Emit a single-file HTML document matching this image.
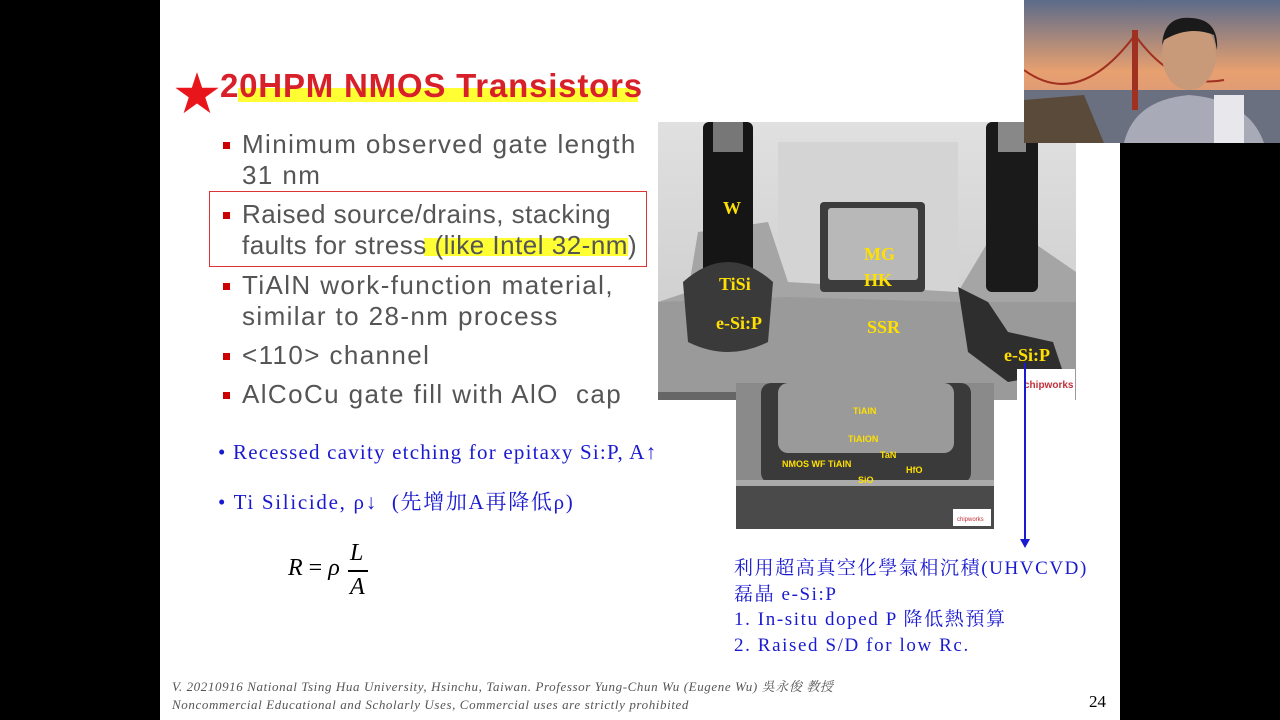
<!DOCTYPE html>
<html><head><meta charset="utf-8">
<style>
html,body{margin:0;padding:0;background:#000;}
body{width:1280px;height:720px;position:relative;overflow:hidden;font-family:"Liberation Sans","Noto Sans CJK TC",sans-serif;}
#slide{position:absolute;left:160px;top:0;width:960px;height:720px;background:#fff;}
.a{position:absolute;white-space:nowrap;}
.b{font-size:26px;color:#555;line-height:31px;letter-spacing:1.4px;}
.sq{position:absolute;width:7px;height:7px;background:#c00;}
.blue{font-family:"Liberation Serif","Noto Serif CJK SC",serif;color:#1a1ad0;font-size:21px;}
.y{font-family:"Liberation Serif",serif;font-weight:bold;color:#ffe000;font-size:18px;position:absolute;}
.ys{font-family:"Liberation Sans",sans-serif;font-weight:bold;color:#ffe000;font-size:9px;position:absolute;}
</style></head><body>
<div id="slide"></div>
<!-- title -->
<div class="a" style="left:174px;top:58px;font-size:46px;color:#e8161b;">★</div>
<div class="a" style="left:238px;top:88px;width:400px;height:14px;background:#ffff33;"></div>
<div class="a" style="left:220px;top:67px;font-size:33px;font-weight:bold;color:#d8202a;letter-spacing:0.8px;">20HPM NMOS Transistors</div>
<!-- bullets -->
<div class="sq" style="left:223px;top:142px;"></div>
<div class="a b" style="left:242px;top:129px;">Minimum observed gate length<br>31 nm</div>
<div class="a" style="left:209px;top:191px;width:436px;height:74px;border:1.5px solid #d33;"></div>
<div class="a" style="left:424px;top:238px;width:204px;height:18px;background:#ffff33;"></div>
<div class="sq" style="left:223px;top:212px;"></div>
<div class="a b" style="left:242px;top:199px;letter-spacing:0.5px;">Raised source/drains, stacking<br>faults for stress (like Intel 32-nm)</div>
<div class="sq" style="left:223px;top:283px;"></div>
<div class="a b" style="left:242px;top:270px;">TiAlN work-function material,<br>similar to 28-nm process</div>
<div class="sq" style="left:223px;top:353px;"></div>
<div class="a b" style="left:242px;top:340px;">&lt;110&gt; channel</div>
<div class="sq" style="left:223px;top:392px;"></div>
<div class="a b" style="left:242px;top:379px;">AlCoCu gate fill with AlO&nbsp; cap</div>
<div class="a blue" style="left:218px;top:440px;letter-spacing:1.2px;">• Recessed cavity etching for epitaxy Si:P, A↑</div>
<div class="a blue" style="left:218px;top:486px;letter-spacing:1.7px;">• Ti Silicide, ρ↓&nbsp; (先增加A再降低ρ)</div>
<!-- formula -->
<div class="a" style="left:288px;top:555px;font-family:'Liberation Serif',serif;font-style:italic;font-size:24px;">R <span style="font-style:normal">=</span> ρ</div>
<div class="a" style="left:350px;top:540px;font-family:'Liberation Serif',serif;font-style:italic;font-size:24px;">L</div>
<div class="a" style="left:348px;top:570px;width:20px;height:1.5px;background:#000;"></div>
<div class="a" style="left:350px;top:574px;font-family:'Liberation Serif',serif;font-style:italic;font-size:24px;">A</div>
<!-- footer -->
<div class="a" style="left:172px;top:678px;font-family:'Liberation Serif','Noto Serif CJK SC',serif;font-style:italic;font-size:13px;color:#555;line-height:18px;letter-spacing:0.6px;">V. 20210916 National Tsing Hua University, Hsinchu, Taiwan. Professor Yung-Chun Wu (Eugene Wu) 吳永俊 教授<br>Noncommercial Educational and Scholarly Uses, Commercial uses are strictly prohibited</div>
<div class="a" style="left:1089px;top:692px;font-family:'Liberation Serif',serif;font-size:17px;">24</div>
<!-- TEM image -->
<svg class="a" style="left:658px;top:122px;" width="418" height="278">
<defs><linearGradient id="g1" x1="0" y1="0" x2="0" y2="1"><stop offset="0" stop-color="#e0e0e0"/><stop offset="1" stop-color="#c8c8c8"/></linearGradient></defs>
<rect width="418" height="278" fill="url(#g1)"/>
<rect x="120" y="20" width="180" height="150" fill="#d4d4d4"/>
<path d="M0,180 L30,170 L40,110 L110,100 L130,160 L300,170 L330,120 L360,110 L418,150 L418,278 L0,278Z" fill="#a5a5a5"/>
<path d="M0,278 L0,180 L130,175 L300,180 L418,180 L418,278Z" fill="#9a9a9a"/>
<rect x="45" y="0" width="50" height="165" rx="6" fill="#151515"/>
<rect x="55" y="0" width="30" height="30" fill="#777"/>
<path d="M25,160 Q70,120 115,160 L110,220 Q70,240 30,220Z" fill="#3a3a3a"/>
<rect x="328" y="0" width="52" height="170" rx="6" fill="#1a1a1a"/>
<rect x="340" y="0" width="28" height="30" fill="#888"/>
<path d="M300,165 L330,180 L350,210 L395,220 L405,250 L350,260 L310,230Z" fill="#2e2e2e"/>
<rect x="162" y="80" width="105" height="90" rx="4" fill="#3c3c3c"/>
<rect x="170" y="86" width="90" height="72" rx="3" fill="#b8b8b8"/>
<rect x="0" y="270" width="80" height="8" fill="#666"/>
<rect x="359" y="247" width="58" height="31" fill="#fff"/>
<text x="366" y="266" font-family="Liberation Sans" font-size="10" fill="#c0303a" font-weight="bold">chipworks</text>
</svg>
<div class="y" style="left:723px;top:198px;">W</div>
<div class="y" style="left:864px;top:244px;">MG</div>
<div class="y" style="left:864px;top:270px;">HK</div>
<div class="y" style="left:719px;top:274px;">TiSi</div>
<div class="y" style="left:716px;top:313px;">e-Si:P</div>
<div class="y" style="left:867px;top:317px;">SSR</div>
<div class="y" style="left:1004px;top:345px;">e-Si:P</div>
<!-- inset -->
<svg class="a" style="left:736px;top:383px;" width="258" height="146">
<rect width="258" height="146" fill="#8a8a8a"/>
<rect x="25" y="0" width="210" height="100" rx="10" fill="#3a3a3a"/>
<rect x="42" y="0" width="176" height="70" rx="10" fill="#9a9a9a"/>
<rect x="0" y="100" width="258" height="46" fill="#4a4a4a"/>
<rect x="0" y="97" width="258" height="6" fill="#aaa"/>
<rect x="217" y="126" width="38" height="17" fill="#fff"/>
<text x="221" y="138" font-family="Liberation Sans" font-size="6" fill="#c0303a">chipworks</text>
</svg>
<div class="ys" style="left:853px;top:406px;">TiAlN</div>
<div class="ys" style="left:848px;top:434px;">TiAlON</div>
<div class="ys" style="left:880px;top:450px;">TaN</div>
<div class="ys" style="left:782px;top:459px;">NMOS WF TiAlN</div>
<div class="ys" style="left:906px;top:465px;">HfO</div>
<div class="ys" style="left:858px;top:475px;">SiO</div>
<!-- arrow -->
<div class="a" style="left:1024px;top:363px;width:1.5px;height:178px;background:#1a1ad0;"></div>
<div class="a" style="left:1020px;top:539px;width:0;height:0;border-left:5px solid transparent;border-right:5px solid transparent;border-top:9px solid #1a1ad0;"></div>
<div class="a blue" style="left:734px;top:556px;font-size:19px;line-height:25.5px;letter-spacing:1.6px;">利用超高真空化學氣相沉積(UHVCVD)<br>磊晶 e-Si:P<br>1. In-situ doped P 降低熱預算<br>2. Raised S/D for low Rc.</div>
<!-- webcam -->
<svg class="a" style="left:1024px;top:0;" width="256" height="143">
<defs><linearGradient id="sky" x1="0" y1="0" x2="0" y2="1"><stop offset="0" stop-color="#5b6b8a"/><stop offset="0.5" stop-color="#e8a070"/><stop offset="1" stop-color="#c89080"/></linearGradient></defs>
<rect width="256" height="143" fill="url(#sky)"/>
<rect x="0" y="90" width="256" height="53" fill="#6a7080"/>
<path d="M0,100 L60,95 L80,143 L0,143Z" fill="#5a4a3a"/>
<rect x="108" y="30" width="6" height="80" fill="#a03020"/>
<path d="M0,70 Q55,110 111,35 Q150,90 200,80" stroke="#a03020" stroke-width="2" fill="none"/>
<ellipse cx="165" cy="55" rx="27" ry="35" fill="#c89a7a"/>
<path d="M138,45 Q140,15 168,18 Q195,20 193,50 L190,35 Q165,25 140,40Z" fill="#1a1a1a"/>
<path d="M100,143 Q110,100 165,95 Q225,100 240,143Z" fill="#a8aab8"/>
<rect x="190" y="95" width="30" height="48" fill="#e8e8ec"/>
</svg>
</body></html>
